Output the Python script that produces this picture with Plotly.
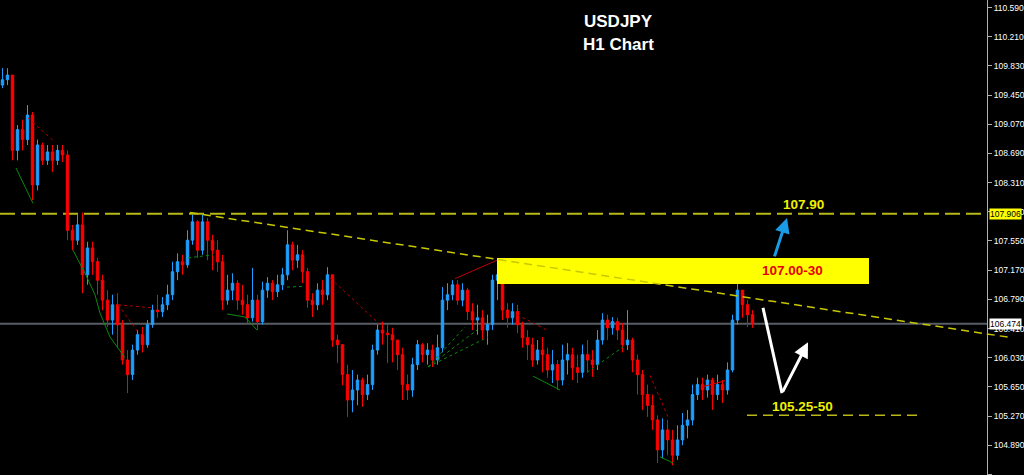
import plotly.graph_objects as go

# ---- data (USDJPY H1) ----
first_open = 109.58
closes = [109.65,109.71,108.73,109.00,108.87,109.19,108.28,108.80,108.60,108.71,
108.60,108.73,108.67,107.69,107.56,107.76,107.11,107.46,107.28,107.04,
106.78,106.52,106.72,106.46,106.00,105.81,106.13,106.33,106.20,106.46,
106.65,106.63,106.72,106.85,107.15,107.28,107.24,107.56,107.80,107.43,
107.80,107.56,107.43,107.28,106.78,106.91,107.00,106.78,106.72,106.55,
106.78,106.50,106.91,107.00,106.89,106.98,107.11,107.50,107.30,107.37,
107.15,106.78,106.72,106.91,106.85,107.11,106.26,106.20,105.81,105.48,
105.61,105.74,105.55,105.68,106.13,106.39,106.35,106.33,106.26,106.07,
105.68,105.61,105.94,106.20,106.07,106.13,106.00,106.16,106.78,106.85,
106.98,106.78,106.91,106.63,106.52,106.55,106.39,106.46,107.04,107.11,
106.65,106.55,106.63,106.46,106.29,106.20,106.00,106.13,106.07,105.87,
105.94,105.74,106.00,106.07,105.90,105.84,106.07,106.00,105.94,106.26,
106.52,106.42,106.50,106.39,106.20,106.26,106.00,105.81,105.55,105.41,
105.22,104.83,105.09,104.96,104.76,104.96,105.15,105.22,105.55,105.68,
105.61,105.74,105.55,105.68,105.61,105.87,106.52,106.91,106.72,106.59,
106.48]
highs = [109.80,109.80,109.71,109.06,109.13,109.32,109.23,108.87,108.83,108.80,
108.80,108.80,108.80,108.73,107.76,107.89,107.92,107.54,107.54,107.33,
107.11,106.91,106.85,106.87,106.52,106.13,106.20,106.39,106.43,106.52,
106.72,106.85,106.82,106.98,107.28,107.39,107.37,107.69,107.89,107.82,
107.89,107.85,107.63,107.56,107.37,107.11,107.13,107.04,106.98,106.85,
107.20,106.85,107.02,107.08,107.04,107.11,107.20,107.69,107.54,107.50,
107.43,107.20,106.87,107.00,107.04,107.21,107.11,106.33,106.20,105.94,
105.87,105.81,105.77,105.81,106.20,106.46,106.50,106.46,106.42,106.26,
106.16,105.81,106.03,106.26,106.22,106.22,106.20,106.33,106.95,107.00,
107.04,107.04,107.00,106.94,106.74,106.72,106.65,106.59,107.11,107.33,
107.17,106.74,106.74,106.72,106.50,106.39,106.29,106.26,106.30,106.16,
106.13,106.00,106.20,106.22,106.16,106.07,106.20,106.26,106.13,106.39,
106.61,106.59,106.56,106.55,106.48,106.65,106.29,106.07,105.87,105.68,
105.55,105.28,105.24,105.22,105.09,105.15,105.31,105.35,105.68,105.77,
105.77,105.81,105.77,105.81,105.74,105.97,106.59,107.00,106.91,106.78,
106.65]
lows = [109.54,109.58,108.60,108.60,108.73,108.80,108.08,108.21,108.54,108.54,
108.45,108.54,108.58,107.56,107.43,107.50,106.87,106.98,107.11,106.85,
106.65,106.43,106.33,106.17,105.94,105.57,105.74,106.07,106.10,106.16,
106.42,106.55,106.56,106.65,106.78,107.04,107.11,107.20,107.50,107.33,
107.37,107.30,107.17,107.15,106.65,106.72,106.78,106.65,106.59,106.46,
106.50,106.39,106.46,106.81,106.78,106.82,106.91,107.04,107.17,107.20,
107.00,106.68,106.56,106.65,106.72,106.78,106.17,105.96,105.67,105.26,
105.32,105.41,105.39,105.48,105.61,106.07,106.20,105.96,105.97,105.87,
105.48,105.48,105.52,105.87,105.97,105.94,105.91,105.94,106.10,106.65,
106.78,106.72,106.70,106.52,106.39,106.33,106.26,106.20,106.39,106.78,
106.52,106.42,106.46,106.35,106.16,106.00,105.91,105.94,105.84,105.77,
105.70,105.61,105.67,105.81,105.74,105.70,105.77,105.84,105.78,105.87,
106.20,106.26,106.33,106.26,106.10,106.13,105.84,105.55,105.35,105.26,
105.09,104.66,104.72,104.76,104.63,104.70,104.89,104.98,105.15,105.48,
105.48,105.51,105.35,105.48,105.44,105.55,105.84,106.46,106.55,106.43,
106.42]
opens = [first_open] + closes[:-1]
bars = list(range(len(closes)))

# price axis
y_min, y_max = 104.503, 110.688
tick_vals = [110.590, 110.210, 109.830, 109.450, 109.070, 108.690, 108.310, 107.930,
             107.550, 107.170, 106.790, 106.410, 106.030, 105.650, 105.270, 104.890, 104.510]
tick_text = ["%.3f" % v for v in tick_vals]

# key levels
level_high = 107.906
level_now = 106.474
level_target = 105.28
zone_low, zone_high = 106.99, 107.33
trend_start = (37.5, 107.92)
trend_end_price = 106.29

# zigzag indicator segments: (bar positions, prices, colour, dash)
zigzags = [
    ([2.7, 6.1], [108.50, 108.04], "#0a8a0a", "solid"),
    ([5.1, 10.1], [109.15, 108.86], "#b00000", "dot"),
    ([14.1, 16.5, 18.5, 19.5, 21.5, 24.5], [107.43, 107.13, 106.85, 106.61, 106.30, 106.03], "#0a8a0a", "solid"),
    ([23.1, 29.9], [106.72, 106.68], "#b00000", "dot"),
    ([23.1, 27.5], [106.72, 106.33], "#b00000", "dot"),
    ([37.1, 42.1], [107.33, 107.37], "#0a8a0a", "dot"),
    ([44.9, 48.5, 50.9], [106.60, 106.56, 106.39], "#0a8a0a", "solid"),
    ([56.9, 60.5], [106.95, 106.96], "#0a8a0a", "dot"),
    ([65.5, 75.5], [107.07, 106.46], "#b00000", "dot"),
    ([85.1, 92.5], [105.91, 106.43], "#0a8a0a", "dot"),
    ([85.1, 94.9], [105.91, 106.39], "#0a8a0a", "dot"),
    ([85.1, 97.1], [105.91, 106.30], "#0a8a0a", "dot"),
    ([90.5, 98.9], [107.06, 107.30], "#c00000", "solid"),
    ([102.9, 108.9], [106.59, 106.39], "#b00000", "dot"),
    ([106.1, 111.5], [105.79, 105.61], "#0a8a0a", "solid"),
    ([116.9, 124.1], [105.84, 106.17], "#0a8a0a", "dot"),
    ([129.5, 133.1], [105.80, 105.26], "#b00000", "dot"),
    ([131.5, 134.1], [104.74, 104.66], "#0a8a0a", "solid"),
    ([139.9, 144.5], [105.65, 105.73], "#e00000", "solid"),
]

x_range = [-0.5, 196.9]
PLOT_W = 987


def yp(price):
    return (price - y_min) / (y_max - y_min)


fig = go.Figure()

for xs, ys, col, dash in zigzags:
    fig.add_trace(go.Scatter(x=xs, y=ys, mode="lines", showlegend=False, hoverinfo="skip",
                             line=dict(color=col, width=1, dash=dash)))

fig.add_trace(go.Candlestick(
    x=bars, open=opens, high=highs, low=lows, close=closes,
    increasing=dict(line=dict(color="#1e9fff", width=1), fillcolor="#1e9fff"),
    decreasing=dict(line=dict(color="#ff0000", width=1), fillcolor="#ff0000"),
    whiskerwidth=0, showlegend=False,
))

shapes = [
    dict(type="line", xref="paper", yref="y", x0=0, x1=1, y0=level_high, y1=level_high,
         line=dict(color="#b8b818", width=2, dash="15px,6px"), layer="below"),
    dict(type="line", xref="paper", yref="y", x0=0, x1=1, y0=level_now, y1=level_now,
         line=dict(color="#585e66", width=2), layer="below"),
    dict(type="rect", xref="x", yref="y", x0=98.9, x1=173.3, y0=zone_low, y1=zone_high,
         fillcolor="#ffff00", line=dict(width=0), layer="above"),
    dict(type="line", xref="paper", yref="paper",
         x0=(trend_start[0] - x_range[0]) / (x_range[1] - x_range[0]), y0=yp(trend_start[1]),
         x1=1012 / PLOT_W, y1=yp(trend_end_price),
         line=dict(color="#c8c800", width=1.5, dash="8px,5px")),
    dict(type="line", xref="x", yref="y", x0=148.9, x1=183.5, y0=level_target, y1=level_target,
         line=dict(color="#b8b818", width=1.5, dash="10px,6px")),
    dict(type="line", xref="x", yref="y", x0=152.1, x1=155.9, y0=106.68, y1=105.57,
         line=dict(color="#ffffff", width=3)),
]

bold = "Liberation Sans, Arial, sans-serif"
annotations = [
    dict(xref="paper", yref="paper", x=618 / PLOT_W, y=1 - 21 / 475, text="<b>USDJPY</b>",
         xanchor="center", yanchor="middle",
         showarrow=False, font=dict(family=bold, size=17, color="#ffffff")),
    dict(xref="paper", yref="paper", x=618 / PLOT_W, y=1 - 45 / 475, text="<b>H1 Chart</b>",
         xanchor="center", yanchor="middle",
         showarrow=False, font=dict(family=bold, size=17, color="#ffffff")),
    dict(x=157.9, y=107.16, xref="x", yref="y", text="<b>107.00-30</b>", showarrow=False,
         font=dict(family=bold, size=13.5, color="#e80000")),
    dict(x=160.1, y=108.03, xref="x", yref="y", text="<b>107.90</b>", showarrow=False,
         font=dict(family=bold, size=13.5, color="#f0f000")),
    dict(x=159.9, y=105.40, xref="x", yref="y", text="<b>105.25-50</b>", showarrow=False,
         font=dict(family=bold, size=13.5, color="#f0f000")),
    # blue arrow up
    dict(x=156.9, y=107.85, ax=154.3, ay=107.33, xref="x", yref="y", axref="x", ayref="y",
         text="", showarrow=True, arrowhead=2, arrowsize=1, arrowwidth=3, arrowcolor="#1a9be6"),
    # white rebound arrow
    dict(x=161.1, y=106.23, ax=155.9, ay=105.57, xref="x", yref="y", axref="x", ayref="y",
         text="", showarrow=True, arrowhead=2, arrowsize=1, arrowwidth=3, arrowcolor="#ffffff"),
    # price labels on axis
    dict(xref="paper", yref="y", x=1.002, y=level_high, xanchor="left", yanchor="middle",
         text="107.906", showarrow=False, bgcolor="#ffff00", borderpad=0,
         font=dict(family="Liberation Sans, Arial", size=8.5, color="#000000")),
    dict(xref="paper", yref="y", x=1.002, y=level_now, xanchor="left", yanchor="middle",
         text="106.474", showarrow=False, bgcolor="#ffffff", borderpad=0,
         font=dict(family="Liberation Sans, Arial", size=8.5, color="#000000")),
]

fig.update_layout(
    width=1024, height=475,
    margin=dict(l=0, r=37, t=0, b=0),
    paper_bgcolor="#000000", plot_bgcolor="#000000",
    showlegend=False,
    shapes=shapes, annotations=annotations,
    xaxis=dict(range=x_range, visible=False, rangeslider=dict(visible=False),
               showgrid=False, zeroline=False),
    yaxis=dict(range=[y_min, y_max], side="right", tickvals=tick_vals, ticktext=tick_text,
               showgrid=False, zeroline=False, showline=True, linecolor="#b0b0b0", linewidth=1,
               ticks="outside", ticklen=4, tickcolor="#b0b0b0",
               tickfont=dict(family="Liberation Sans, Arial", size=8.5, color="#ffffff")),
)

fig.write_html("out.html", config={"displayModeBar": False},
               post_script="document.body.style.margin='0';document.body.style.background='#000';")
